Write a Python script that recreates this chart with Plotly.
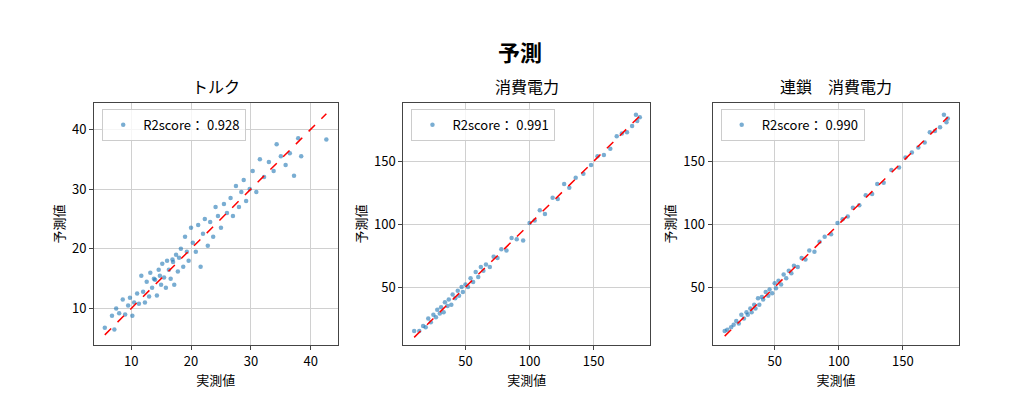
import plotly.graph_objects as go

# トルク
torque_act = [5.6, 6.8, 7.2, 7.5, 8.0, 8.6, 9.0, 9.5, 9.8, 10.2,
              10.5, 11.0, 11.3, 11.7, 12.0, 12.3, 12.6, 13.0, 13.2, 13.5,
              13.8, 14.0, 14.3, 14.6, 15.0, 15.2, 15.5, 15.8, 16.0, 16.3,
              16.6, 17.0, 17.2, 17.5, 17.8, 18.0, 18.3, 18.7, 19.0, 19.3,
              19.6, 20.0, 20.3, 20.8, 21.2, 21.6, 22.0, 22.3, 22.8, 23.2,
              23.7, 24.1, 24.5, 25.0, 25.5, 26.0, 26.6, 27.0, 27.5, 28.0,
              28.4, 28.8, 29.2, 29.8, 30.3, 30.9, 31.5, 32.2, 33.0, 33.8,
              34.3, 35.0, 35.8, 36.5, 37.2, 37.9, 38.4, 42.6, 14.8, 16.9]
torque_pred = [6.8, 8.8, 6.5, 10.0, 9.2, 11.5, 9.0, 10.5, 11.8, 8.8,
               11.0, 12.5, 10.8, 15.5, 12.8, 11.0, 14.5, 12.0, 16.0, 13.5,
               15.0, 14.8, 12.2, 16.5, 14.0, 17.5, 15.2, 13.5, 18.0, 16.5,
               15.0, 17.8, 14.0, 19.0, 16.2, 18.5, 20.0, 17.0, 22.0, 19.5,
               18.0, 23.5, 21.0, 19.5, 24.0, 17.0, 22.5, 25.0, 20.5, 24.5,
               22.0, 27.0, 25.5, 23.5, 27.5, 26.0, 28.5, 25.5, 30.5, 27.0,
               29.5, 31.5, 28.0, 30.0, 33.0, 29.5, 35.0, 32.0, 34.5, 33.0,
               37.5, 35.5, 34.0, 36.0, 32.2, 38.5, 35.5, 38.3, 15.5, 18.2]

# 消費電力
power_act = [10, 14, 17, 19, 21, 23, 25, 27, 28, 30,
             31, 33, 34, 36, 37, 39, 40, 42, 44, 45,
             47, 48, 50, 52, 54, 56, 58, 60, 62, 64,
             66, 69, 72, 75, 78, 82, 86, 90, 95, 100,
             104, 108, 112, 118, 122, 127, 131, 136, 142, 148,
             153, 158, 163, 168, 172, 176, 180, 183, 184, 186]
power_pred = [15, 15, 19, 18, 25, 22, 28, 26, 32, 29,
              34, 30, 38, 35, 40, 36, 44, 41, 47, 43,
              50, 46, 52, 50, 57, 54, 62, 58, 66, 63,
              68, 66, 74, 73, 80, 79, 89, 88, 87, 101,
              103, 111, 108, 121, 120, 132, 129, 137, 140, 147,
              154, 155, 160, 170, 172, 173, 178, 187, 182, 185]

# 連鎖 消費電力
chain_act = [11, 13, 16, 18, 20, 22, 24, 26, 28, 29,
             31, 32, 34, 35, 37, 38, 40, 41, 43, 45,
             46, 48, 50, 51, 53, 55, 57, 59, 61, 63,
             65, 68, 71, 74, 77, 81, 85, 89, 94, 99,
             103, 107, 111, 116, 121, 126, 130, 135, 141, 147,
             152, 157, 162, 167, 171, 175, 179, 182, 184, 185]
chain_pred = [15, 16, 18, 20, 23, 21, 28, 25, 30, 28,
              33, 30, 36, 33, 41, 36, 42, 40, 46, 43,
              48, 45, 53, 49, 55, 52, 60, 57, 63, 61,
              67, 66, 73, 72, 79, 78, 86, 90, 92, 101,
              104, 106, 113, 115, 123, 124, 132, 133, 143, 145,
              153, 157, 161, 165, 173, 174, 177, 187, 181, 184]

titles = ["トルク", "消費電力", "連鎖　消費電力"]
scores = ["0.928", "0.991", "0.990"]
panels = [(torque_act, torque_pred), (power_act, power_pred), (chain_act, chain_pred)]
xranges = [[3.8, 44.5], [1.5, 194], [1.5, 194]]
yranges = [[3.9, 44.4], [3.9, 196.4], [3.9, 196.4]]
xdoms = [[0.084, 0.322], [0.386, 0.627], [0.688, 0.929]]

FONT = "Noto Sans CJK JP"
fig = go.Figure()
for i, (a, p) in enumerate(panels):
    n = "" if i == 0 else str(i + 1)
    leg = "legend" + n
    fig.add_trace(go.Scatter(x=a, y=p, mode="markers", name="R2score： " + scores[i],
                             marker=dict(size=4.5, color="#1f77b4", opacity=0.6),
                             xaxis="x" + n, yaxis="y" + n, legend=leg))
    lo, hi = min(a), max(a)
    fig.add_trace(go.Scatter(x=[lo, hi], y=[lo, hi], mode="lines", showlegend=False,
                             line=dict(color="red", dash="dash", width=1.5),
                             xaxis="x" + n, yaxis="y" + n))
    ax = dict(showline=True, mirror=True, linecolor="#444", linewidth=1,
              showgrid=True, gridcolor="#d0d0d0", ticks="outside", ticklen=4,
              tickcolor="#444", zeroline=False, tickfont=dict(size=13))
    fig.layout["xaxis" + n] = dict(ax, domain=xdoms[i], range=xranges[i], anchor="y" + n,
                                   title=dict(text="実測値", font=dict(size=13), standoff=4))
    fig.layout["yaxis" + n] = dict(ax, domain=[0.18, 0.769], range=yranges[i], anchor="x" + n,
                                   title=dict(text="予測値", font=dict(size=13), standoff=4))
    fig.layout[leg] = dict(x=xdoms[i][0] + 0.008, y=0.755, xanchor="left", yanchor="top",
                           bgcolor="rgba(255,255,255,0.8)", bordercolor="#cccccc",
                           borderwidth=1, font=dict(size=13))
    fig.add_annotation(text=titles[i], x=sum(xdoms[i]) / 2, y=0.775, xref="paper", yref="paper",
                       xanchor="center", yanchor="bottom", showarrow=False,
                       font=dict(size=16, color="black"))

fig.update_layout(
    width=1024, height=411, margin=dict(l=0, r=0, t=0, b=0),
    plot_bgcolor="white", paper_bgcolor="white",
    font=dict(family=FONT, color="black"),
    title=dict(text="<b>予測</b>", x=0.5, y=0.89, xanchor="center", yanchor="middle",
               font=dict(size=22)),
)
fig.write_html("out.html")
